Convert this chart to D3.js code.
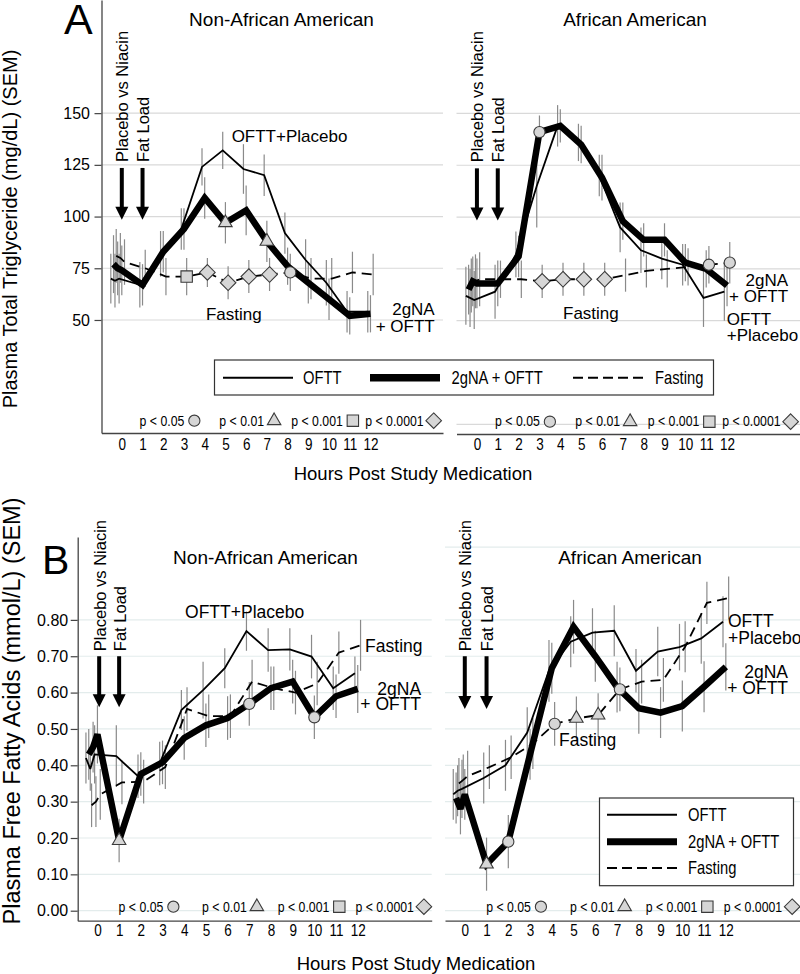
<!DOCTYPE html>
<html><head><meta charset="utf-8">
<script src="https://cdn.jsdelivr.net/npm/d3@7"></script>
<style>
body{margin:0;background:#fff}
svg{display:block}
text{font-family:"Liberation Sans",Arial,Helvetica,sans-serif;fill:#000}
</style></head><body>
<svg id="chart" width="800" height="974"></svg>
<script>
// ---------------- DATA ----------------
const hours = [-0.4, -0.2, 0, 1, 2, 3, 4, 5, 6, 7, 8, 9, 10, 11, 12];
const tickHours = [0,1,2,3,4,5,6,7,8,9,10,11,12];
const seriesNames = ["OFTT", "2gNA + OFTT", "Fasting"];

// A: Plasma total triglyceride (mg/dL), Non-African American
const tgNonAA_oftt    = [70, 69, 70, 67, 82, 94, 124, 132, 123, 120, 92, 79, 68, 54, 54];
const tgNonAA_niacin  = [77, 75, 74, 67, 83, 94, 109, 97, 103, 88, 76, 68, 60, 52, 53];
const tgNonAA_fasting = [81, 80, 78, 75, 71, 71, 73, 68, 71, 72, 73, 70, 70, 73, 72];
const tgNonAA_oftt_sem    = [12, 13, 12, 11, 11, 10, 9, 9, 12, 10, 10, 10, 11, 10, 10];
const tgNonAA_niacin_sem  = [14, 13, 12, 10, 10, 10, 10, 10, 12, 10, 9, 10, 10, 9, 9];
const tgNonAA_fasting_sem = [13, 12, 11, 9, 9, 9, 7, 8, 8, 8, 9, 10, 10, 10, 10];
const tgNonAA_markers = [[2,3,"square"],[2,4,"diamond"],[2,5,"diamond"],[2,6,"diamond"],[2,7,"diamond"],[2,8,"circle"],[1,5,"triangle"],[1,7,"triangle"]];

// A: African American
const tgAA_oftt    = [62, 61, 60, 64, 82, 115, 144, 136, 120, 95, 84, 80, 77, 61, 64];
const tgAA_niacin  = [65, 69, 68, 68, 81, 141, 144, 135, 119, 98, 89, 89, 78, 75, 67];
const tgAA_fasting = [67, 69, 70, 70, 70, 69, 70, 70, 70, 72, 74, 75, 76, 77, 78];
const tgAA_oftt_sem    = [14, 14, 14, 13, 11, 20, 10, 9, 10, 12, 11, 10, 10, 14, 14];
const tgAA_niacin_sem  = [12, 12, 12, 11, 10, 8, 8, 9, 11, 9, 8, 8, 9, 9, 10];
const tgAA_fasting_sem = [13, 13, 13, 9, 9, 8, 8, 8, 8, 8, 8, 9, 9, 9, 10];
const tgAA_markers = [[1,3,"circle"],[2,3,"diamond"],[2,4,"diamond"],[2,5,"diamond"],[2,6,"diamond"],[2,11,"circle"],[2,12,"circle"]];

// B: Plasma free fatty acids (mmol/L), Non-African American
const ffaNonAA_oftt    = [0.42, 0.39, 0.43, 0.425, 0.37, 0.405, 0.552, 0.607, 0.667, 0.769, 0.717, 0.719, 0.699, 0.612, 0.653];
const ffaNonAA_niacin  = [0.43, 0.45, 0.485, 0.193, 0.376, 0.408, 0.475, 0.51, 0.53, 0.569, 0.612, 0.63, 0.532, 0.59, 0.61];
const ffaNonAA_fasting = [0.29, 0.30, 0.32, 0.353, 0.355, 0.395, 0.555, 0.535, 0.535, 0.63, 0.612, 0.60, 0.625, 0.71, 0.73];
const ffaNonAA_oftt_sem    = [0.07, 0.06, 0.08, 0.085, 0.06, 0.06, 0.055, 0.078, 0.055, 0.054, 0.06, 0.058, 0.06, 0.06, 0.046];
const ffaNonAA_niacin_sem  = [0.07, 0.07, 0.08, 0.06, 0.06, 0.06, 0.06, 0.06, 0.06, 0.06, 0.06, 0.06, 0.06, 0.06, 0.066];
const ffaNonAA_fasting_sem = [0.06, 0.07, 0.07, 0.06, 0.06, 0.06, 0.06, 0.06, 0.06, 0.06, 0.06, 0.06, 0.06, 0.058, 0.07];
const ffaNonAA_markers = [[1,1,"triangle"],[1,7,"circle"],[1,10,"circle"]];

// B: African American
const ffaAA_oftt    = [0.32, 0.33, 0.335, 0.365, 0.40, 0.49, 0.66, 0.74, 0.765, 0.77, 0.66, 0.713, 0.725, 0.749, 0.795];
const ffaAA_niacin  = [0.31, 0.28, 0.32, 0.128, 0.19, 0.43, 0.667, 0.781, 0.70, 0.615, 0.557, 0.545, 0.563, 0.616, 0.671];
const ffaAA_fasting = [0.35, 0.36, 0.37, 0.395, 0.422, 0.46, 0.514, 0.529, 0.538, 0.609, 0.63, 0.635, 0.726, 0.847, 0.86];
const ffaAA_oftt_sem    = [0.07, 0.07, 0.08, 0.07, 0.07, 0.07, 0.085, 0.07, 0.067, 0.07, 0.06, 0.068, 0.064, 0.07, 0.07];
const ffaAA_niacin_sem  = [0.07, 0.07, 0.07, 0.073, 0.073, 0.07, 0.07, 0.074, 0.07, 0.07, 0.07, 0.07, 0.07, 0.07, 0.065];
const ffaAA_fasting_sem = [0.07, 0.07, 0.07, 0.06, 0.06, 0.07, 0.06, 0.06, 0.06, 0.06, 0.06, 0.06, 0.07, 0.058, 0.059];
const ffaAA_markers = [[1,1,"triangle"],[1,2,"circle"],[2,4,"circle"],[2,5,"triangle"],[2,6,"triangle"],[2,7,"circle"]];

const tgTicks = [50, 75, 100, 125, 150];
const ffaTicks = [0, 0.1, 0.2, 0.3, 0.4, 0.5, 0.6, 0.7, 0.8];
const pLabels = ["p < 0.05", "p < 0.01", "p < 0.001", "p < 0.0001"];
const pShapes = ["circle", "triangle", "square", "diamond"];
const pHours = [3.5, 7.35, 11.15, 15.05];

// ---------------- DRAW ----------------
const svg = d3.select("#chart");
const NARROW = 0.82;   // horizontal squeeze to imitate a condensed face
const hourOffsets = [-0.13, 0, 0.13];
const lineStyles = [
  {w: 1.8, dash: null},
  {w: 6.5, dash: null},
  {w: 1.8, dash: "10,6"}
];

function narrowText(parent, x, y, txt, size, anchor) {
  return parent.append("g").attr("transform", `translate(${x},${y}) scale(${NARROW},1)`)
    .append("text").attr("text-anchor", anchor || "start").attr("font-size", size).text(txt);
}
function shapePath(shape) {
  if (shape === "circle") { const r = 5.6; return `M${r},0A${r},${r} 0 1,1 ${-r},0A${r},${r} 0 1,1 ${r},0Z`; }
  if (shape === "triangle") { const s = 13.5, h = s * 0.866; return `M0,${-2*h/3}L${s/2},${h/3}L${-s/2},${h/3}Z`; }
  if (shape === "square") { const a = 5.7; return `M${-a},${-a}H${a}V${a}H${-a}Z`; }
  const d = 7.8; return `M0,${-d}L${d},0L0,${d}L${-d},0Z`;
}
function marker(g, px, py, shape) {
  g.append("path").attr("d", shapePath(shape)).attr("transform", `translate(${px},${py})`)
    .attr("fill", "#d6d6d6").attr("stroke", "#3a3a3a").attr("stroke-width", 1.1);
}

function drawPanel(cfg) {
  const x = d3.scaleLinear().domain(cfg.xDomain).range(cfg.xRange);
  const y = d3.scaleLinear().domain(cfg.yDomain).range(cfg.yRange);
  const g = svg.append("g");

  g.selectAll("line.grid").data(cfg.grid).join("line").attr("class", "grid")
    .attr("x1", cfg.xRange[0]).attr("x2", cfg.xRange[1])
    .attr("y1", d => y(d)).attr("y2", d => y(d))
    .attr("stroke", cfg.gridColor).attr("stroke-width", 1.2);

  if (cfg.yAxis) {
    const ax = d3.axisLeft(y).tickValues(cfg.yTicks).tickSize(7).tickSizeOuter(0)
      .tickPadding(cfg.yPad).tickFormat(cfg.fmt);
    const ga = g.append("g").attr("transform", `translate(${cfg.xRange[0]},0)`).call(ax);
    ga.select(".domain").attr("stroke", "#444").attr("stroke-width", 1.3);
    ga.selectAll(".tick line").attr("stroke", "#444").attr("stroke-width", 1.2);
    ga.selectAll(".tick text").attr("font-family", "Liberation Sans, Arial, sans-serif").attr("font-size", 16).attr("fill", "#000");
  }
  const bx = d3.axisBottom(x).tickValues(tickHours).tickSize(0).tickSizeOuter(0).tickPadding(cfg.xPad);
  const gb = g.append("g").attr("transform", `translate(0,${cfg.yRange[0]})`).call(bx);
  gb.select(".domain").attr("stroke", "#444").attr("stroke-width", 1.3);
  gb.selectAll(".tick text").attr("font-family", "Liberation Sans, Arial, sans-serif").attr("font-size", 16.5)
    .attr("fill", "#000").attr("transform", `scale(${NARROW},1)`);

  cfg.series.forEach((s, si) => {
    g.append("g").selectAll("line").data(s.v).join("line")
      .attr("x1", (d, i) => x(hours[i] + hourOffsets[si])).attr("x2", (d, i) => x(hours[i] + hourOffsets[si]))
      .attr("y1", (d, i) => y(d - s.sem[i])).attr("y2", (d, i) => y(d + s.sem[i]))
      .attr("stroke", "#8a8a8a").attr("stroke-width", 1.2);
  });
  cfg.series.forEach((s, si) => {
    const ln = d3.line().x((d, i) => x(hours[i] + hourOffsets[si])).y(d => y(d));
    g.append("path").datum(s.v).attr("d", ln).attr("fill", "none").attr("stroke", "#000")
      .attr("stroke-width", lineStyles[si].w).attr("stroke-dasharray", lineStyles[si].dash)
      .attr("stroke-linejoin", "miter").attr("stroke-miterlimit", 3);
  });
  cfg.markers.forEach(([si, h, shape]) => {
    const i = hours.indexOf(h);
    marker(g, x(h + hourOffsets[si]), y(cfg.series[si].v[i]), shape);
  });

  pLabels.forEach((t, k) => {
    const px = x(pHours[k]), py = y(cfg.pValue);
    marker(g, px, py, pShapes[k]);
    narrowText(g, px - 10, py + 4.8, t, 15, "end");
  });

  cfg.arrows.forEach(([h, label]) => {
    const ax = x(h);
    g.append("line").attr("x1", ax).attr("x2", ax).attr("y1", y(cfg.arrowTop)).attr("y2", y(cfg.arrowTip) - 10)
      .attr("stroke", "#000").attr("stroke-width", 4);
    const tip = y(cfg.arrowTip);
    g.append("path").attr("d", `M${ax - 6.5},${tip - 13}L${ax + 6.5},${tip - 13}L${ax},${tip}Z`).attr("fill", "#000");
    g.append("text").attr("transform", `translate(${ax + 6.5},${y(cfg.labelBottom)}) rotate(-90)`)
      .attr("font-size", 16.5).text(label);
  });

  g.append("text").attr("x", cfg.titleX).attr("y", cfg.titleY).attr("text-anchor", "middle")
    .attr("font-size", 19).text(cfg.title);

  cfg.notes.forEach(([t, h, v, anchor]) => {
    g.append("text").attr("x", x(h)).attr("y", y(v)).attr("text-anchor", anchor)
      .attr("font-size", cfg.noteSize).text(t);
  });
}

const tgDomY = [-4.64, 204.7], ffaDomY = [-0.0275, 1.028];
const fmt2 = d3.format(".2f");

drawPanel({
  xDomain: [-0.98, 15.5], xRange: [101.5, 443], yDomain: tgDomY, yRange: [433, 0],
  grid: tgTicks, gridColor: "#d9d9d9", yAxis: true, yTicks: tgTicks, fmt: d3.format("d"), yPad: 4.5, xPad: 5.5,
  series: [{v: tgNonAA_oftt, sem: tgNonAA_oftt_sem}, {v: tgNonAA_niacin, sem: tgNonAA_niacin_sem}, {v: tgNonAA_fasting, sem: tgNonAA_fasting_sem}],
  markers: tgNonAA_markers, pValue: 1.3,
  arrows: [[0, "Placebo vs Niacin"], [1, "Fat Load"]], arrowTop: 123.5, arrowTip: 98.4, labelBottom: 126.4,
  title: "Non-African American", titleX: 281.5, titleY: 26, noteSize: 17,
  notes: [["OFTT+Placebo", 5.3, 136.2, "start"], ["Fasting", 4.06, 50, "start"], ["2gNA", 15.1, 52.4, "end"], ["+ OFTT", 15.1, 44.2, "end"]]
});
drawPanel({
  xDomain: [-0.98, 15.5], xRange: [456.5, 800], yDomain: tgDomY, yRange: [434, 0],
  grid: [0].concat(tgTicks), gridColor: "#d9d9d9", yAxis: false, xPad: 4.5,
  series: [{v: tgAA_oftt, sem: tgAA_oftt_sem}, {v: tgAA_niacin, sem: tgAA_niacin_sem}, {v: tgAA_fasting, sem: tgAA_fasting_sem}],
  markers: tgAA_markers, pValue: 1.3,
  arrows: [[0, "Placebo vs Niacin"], [1, "Fat Load"]], arrowTop: 123.5, arrowTip: 98.4, labelBottom: 126.4,
  title: "African American", titleX: 635, titleY: 26, noteSize: 17,
  notes: [["Fasting", 4.13, 51, "start"], ["2gNA", 14.93, 66.9, "end"], ["+ OFTT", 14.93, 58.8, "end"], ["OFTT", 11.99, 48, "start"], ["+Placebo", 11.99, 40.3, "start"]]
});
drawPanel({
  xDomain: [-0.91, 15.41], xRange: [77.7, 431.7], yDomain: ffaDomY, yRange: [920.7, 537],
  grid: ffaTicks, gridColor: "#e3ecec", yAxis: true, yTicks: ffaTicks, fmt: fmt2, yPad: 2.5, xPad: 4,
  series: [{v: ffaNonAA_oftt, sem: ffaNonAA_oftt_sem}, {v: ffaNonAA_niacin, sem: ffaNonAA_niacin_sem}, {v: ffaNonAA_fasting, sem: ffaNonAA_fasting_sem}],
  markers: ffaNonAA_markers, pValue: 0.011,
  arrows: [[0.08, "Placebo vs Niacin"], [1, "Fat Load"]], arrowTop: 0.70, arrowTip: 0.56, labelBottom: 0.714,
  title: "Non-African American", titleX: 265.5, titleY: 564, noteSize: 17.5,
  notes: [["OFTT+Placebo", 4.04, 0.804, "start"], ["Fasting", 12.34, 0.7125, "start"], ["2gNA", 14.92, 0.593, "end"], ["+ OFTT", 14.92, 0.552, "end"]]
});
drawPanel({
  xDomain: [-0.91, 15.41], xRange: [445, 800], yDomain: ffaDomY, yRange: [920.7, 537],
  grid: ffaTicks.concat([1.0]), gridColor: "#e3ecec", yAxis: false, xPad: 4,
  series: [{v: ffaAA_oftt, sem: ffaAA_oftt_sem}, {v: ffaAA_niacin, sem: ffaAA_niacin_sem}, {v: ffaAA_fasting, sem: ffaAA_fasting_sem}],
  markers: ffaAA_markers, pValue: 0.011,
  arrows: [[0, "Placebo vs Niacin"], [1, "Fat Load"]], arrowTop: 0.70, arrowTip: 0.555, labelBottom: 0.714,
  title: "African American", titleX: 630, titleY: 564, noteSize: 17.5,
  notes: [["OFTT", 12.1, 0.781, "start"], ["+Placebo", 12.1, 0.733, "start"], ["2gNA", 14.86, 0.639, "end"], ["+ OFTT", 14.86, 0.595, "end"], ["Fasting", 4.33, 0.454, "start"]]
});

// ---------------- LEGENDS ----------------
function legendSample(g, x1, x2, yy, si, w) {
  g.append("line").attr("x1", x1).attr("x2", x2).attr("y1", yy).attr("y2", yy).attr("stroke", "#000")
    .attr("stroke-width", w).attr("stroke-dasharray", si === 2 ? "10,5" : null);
}
const la = svg.append("g");
la.append("rect").attr("x", 214.5).attr("y", 360).attr("width", 499).attr("height", 35)
  .attr("fill", "#fff").attr("stroke", "#333").attr("stroke-width", 1.2);
const laItems = [[223, 293, 303], [370, 440, 451.5], [573, 643, 655]];
laItems.forEach(([a, b, t], si) => {
  legendSample(la, a, b, 377.7, si, si === 1 ? 7.5 : 2);
  narrowText(la, t, 383.5, seriesNames[si], 18, "start");
});
const lb = svg.append("g");
lb.append("rect").attr("x", 599.5).attr("y", 798).attr("width", 194).attr("height", 87.7)
  .attr("fill", "#fff").attr("stroke", "#333").attr("stroke-width", 1.2);
[814.7, 841.7, 868].forEach((yy, si) => {
  legendSample(lb, 607, 677, yy, si, si === 1 ? 7 : 2);
  narrowText(lb, 688, yy + 6, seriesNames[si], 18, "start");
});

// ---------------- FIGURE TEXT ----------------
svg.append("text").attr("x", 64).attr("y", 34).attr("font-size", 43).text("A");
svg.append("text").attr("x", 42).attr("y", 574).attr("font-size", 41).text("B");
svg.append("text").attr("transform", "translate(16.5,229) rotate(-90)").attr("text-anchor", "middle")
  .attr("font-size", 20).text("Plasma Total Triglyceride (mg/dL) (SEM)");
svg.append("text").attr("transform", "translate(19.5,711) rotate(-90)").attr("text-anchor", "middle")
  .attr("font-size", 23.5).text("Plasma Free Fatty Acids (mmol/L) (SEM)");
svg.append("text").attr("x", 413).attr("y", 480).attr("text-anchor", "middle").attr("font-size", 18.5).text("Hours Post Study Medication");
svg.append("text").attr("x", 416).attr("y", 970).attr("text-anchor", "middle").attr("font-size", 18.5).text("Hours Post Study Medication");
</script>
</body></html>
